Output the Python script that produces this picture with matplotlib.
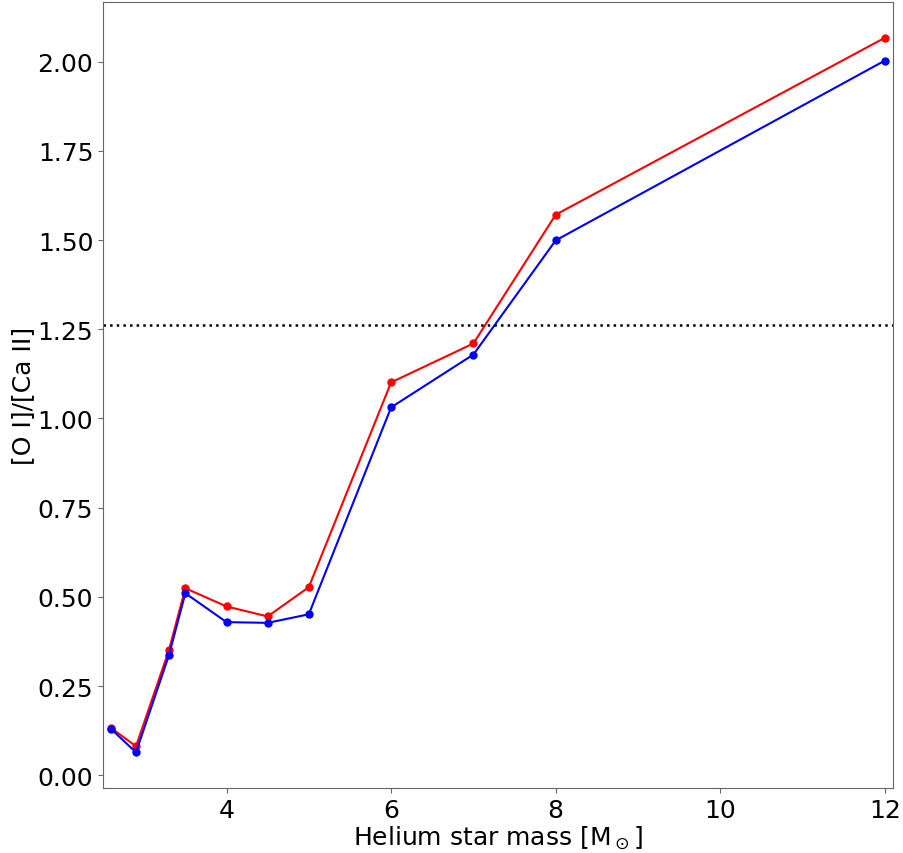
import numpy as np
import matplotlib.pyplot as plt

mass = [2.6, 2.9, 3.3, 3.5, 4.0, 4.5, 5.0, 6.0, 7.0, 8.0, 12.0]
ratio_red = [0.132, 0.081, 0.350, 0.524, 0.473, 0.445, 0.527, 1.101, 1.210, 1.571, 2.067]
ratio_blue = [0.129, 0.064, 0.336, 0.510, 0.429, 0.427, 0.451, 1.031, 1.179, 1.499, 2.003]
obs_ratio = 1.261

plt.rcParams['font.size'] = 18

fig = plt.figure(figsize=(9.04, 8.54), dpi=100)
ax = fig.add_axes([0.114, 0.076, 0.874, 0.9205])

ax.plot(mass, ratio_red, 'o-', color='red', markersize=5, lw=1.5)
ax.plot(mass, ratio_blue, 'o-', color='blue', markersize=5, lw=1.5)
ax.axhline(obs_ratio, color='black', ls=':', lw=1.8)

ax.set_xlim(2.5, 12.1)
ax.set_xticks([4, 6, 8, 10, 12])
ax.set_xlabel(r'Helium star mass [M$_\odot$]', labelpad=1)
ax.set_ylabel('[O I]/[Ca II]', labelpad=2)
for s in ax.spines.values():
    s.set_color('#666666')
ax.tick_params(color='#666666')

fig.savefig('out.png', dpi=100)
